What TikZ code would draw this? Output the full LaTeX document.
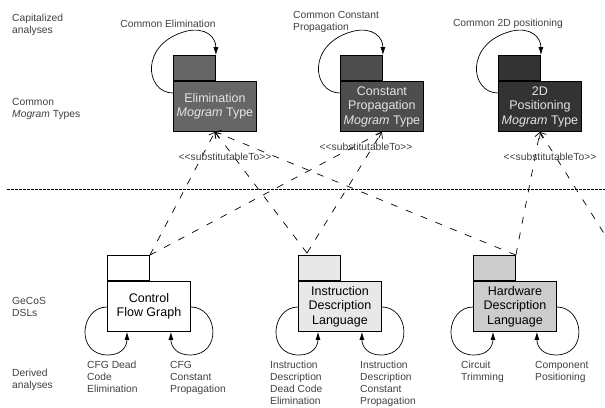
\documentclass[tikz,border=0pt]{standalone}
\usepackage{fontspec}
\setmainfont{Liberation Sans}
\usetikzlibrary{arrows.meta}
\definecolor{lblgray}{HTML}{404040}
\definecolor{elimfill}{HTML}{666666}
\definecolor{constfill}{HTML}{4D4D4D}
\definecolor{posfill}{HTML}{333333}
\definecolor{idlfill}{HTML}{E8E8E8}
\definecolor{hdlfill}{HTML}{CCCCCC}
\newcommand{\substlbl}{{<}{<}substitutableTo{>}{>}}
\begin{document}
\begin{tikzpicture}[x=1pt,y=-1pt,
  lbl/.style={font=\fontsize{10.3}{12}\selectfont, text=lblgray, align=left, inner sep=0pt},
  tabbox/.style={draw=black, line width=0.9pt, minimum width=42pt, minimum height=25pt, inner sep=0pt, anchor=south west},
  bodybox/.style={draw=black, line width=0.9pt, minimum width=83pt, minimum height=50pt, inner sep=0pt, anchor=north west, align=center, font=\fontsize{12.5}{14.5}\selectfont},
  loopline/.style={draw=black, line width=0.7pt, -{Latex[length=8pt,width=5pt]}},
  subst/.style={draw=black, line width=0.7pt, dash pattern=on 7pt off 9pt, -{Straight Barb[length=5pt,width=8pt]}},
  sep/.style={draw=black, line width=0.8pt, dash pattern=on 2.5pt off 1.5pt}
]
\useasboundingbox (0,0) rectangle (605,407);
\clip (0,0) rectangle (605,407);

% left column labels
\node[lbl, anchor=north west] (lcap) at (12,14) {Capitalized\\analyses};
\node[lbl, anchor=north west] (lcom) at (12,98) {Common\\\textit{Mogram} Types};
\node[lbl, anchor=north west] (lgec) at (12,297) {GeCoS\\DSLs};
\node[lbl, anchor=north west] (lder) at (12,369) {Derived\\analyses};

% separator
\coordinate (sepL) at (7,189);
\coordinate (sepR) at (605,189);
\draw[sep] (sepL) -- (sepR);

% top packages
\node[bodybox, fill=elimfill, text=white!90!black] (elimB) at (173,81) {Elimination\\\textit{Mogram} Type};
\node[tabbox, fill=elimfill] (elimT) at (elimB.north west) {};
\node[bodybox, fill=constfill, text=white!90!black] (constB) at (340,81) {Constant\\Propagation\\\textit{Mogram} Type};
\node[tabbox, fill=constfill] (constT) at (constB.north west) {};
\node[bodybox, fill=posfill, text=white!90!black] (posB) at (498,81) {2D\\Positioning\\\textit{Mogram} Type};
\node[tabbox, fill=posfill] (posT) at (posB.north west) {};

% bottom packages
\node[bodybox, fill=white] (cfgB) at (107,281) {Control\\Flow Graph};
\node[tabbox, fill=white] (cfgT) at (cfgB.north west) {};
\node[bodybox, fill=idlfill] (idlB) at (298,281) {Instruction\\Description\\Language};
\node[tabbox, fill=idlfill] (idlT) at (idlB.north west) {};
\node[bodybox, fill=hdlfill] (hdlB) at (473,281) {Hardware\\Description\\Language};
\node[tabbox, fill=hdlfill] (hdlT) at (hdlB.north west) {};

% top self loops
\foreach \b/\t in {elimB/elimT, constB/constT, posB/posT}{
  \draw[loopline] ([yshift=-12pt]\b.north west)
     .. controls ([shift={(-28,12)}]\b.north west) and ([shift={(-34,-38)}]\b.north west)
     .. ([shift={(14,-50)}]\b.north west)
     .. controls ([shift={(33,-54)}]\b.north west) and ([shift={(0,-18)}]\t.north east)
     .. (\t.north east);
}

% top loop labels
\node[lbl, anchor=center] (cElim) at (168,24) {Common Elimination};
\node[lbl, anchor=north west] (cConst) at (293,11) {Common Constant\\Propagation};
\node[lbl, anchor=center] (cPos) at (508,24) {Common 2D positioning};

% bottom self loops
\foreach \b in {cfgB, idlB, hdlB}{
  \draw[loopline] ([yshift=-26pt]\b.north west)
     .. controls ([shift={(-27,26)}]\b.north west) and ([shift={(-32,74)}]\b.north west)
     .. ([shift={(1,74)}]\b.north west)
     .. controls ([shift={(15,74)}]\b.north west) and ([shift={(20,14)}]\b.south west)
     .. ([xshift=20pt]\b.south west);
  \draw[loopline] ([yshift=-26pt]\b.north east)
     .. controls ([shift={(27,26)}]\b.north east) and ([shift={(32,74)}]\b.north east)
     .. ([shift={(-1,74)}]\b.north east)
     .. controls ([shift={(-15,74)}]\b.north east) and ([shift={(-20,14)}]\b.south east)
     .. ([xshift=-20pt]\b.south east);
}

% bottom loop labels
\node[lbl, anchor=north west] (dCfg1) at (87,361) {CFG Dead\\Code\\Elimination};
\node[lbl, anchor=north west] (dCfg2) at (170,361) {CFG\\Constant\\Propagation};
\node[lbl, anchor=north west] (dIdl1) at (270,361) {Instruction\\Description\\Dead Code\\Elimination};
\node[lbl, anchor=north west] (dIdl2) at (360,361) {Instruction\\Description\\Constant\\Propagation};
\node[lbl, anchor=north west] (dHdl1) at (461,361) {Circuit\\Trimming};
\node[lbl, anchor=north west] (dHdl2) at (535,361) {Component\\Positioning};

% substitutableTo connectors
\coordinate (idlTop) at ([xshift=9pt,yshift=2pt]idlT.north west);
\coordinate (offR) at (612,246);
\draw[subst] (cfgT.north east) -- (elimB.south);
\draw[subst] (cfgT.north east) -- (constB.south);
\draw[subst] (idlTop) -- (elimB.south);
\draw[subst] (idlTop) -- (constB.south);
\draw[subst] (hdlT.north east) -- (elimB.south);
\draw[subst] (hdlT.north east) -- (posB.south);
\draw[subst] (offR) -- (posB.south);

\node[lbl, anchor=center] (sElim) at (225,157) {\substlbl};
\node[lbl, anchor=center] (sConst) at (366,147) {\substlbl};
\node[lbl, anchor=center] (sPos) at (550,157) {\substlbl};
\end{tikzpicture}
\end{document}
